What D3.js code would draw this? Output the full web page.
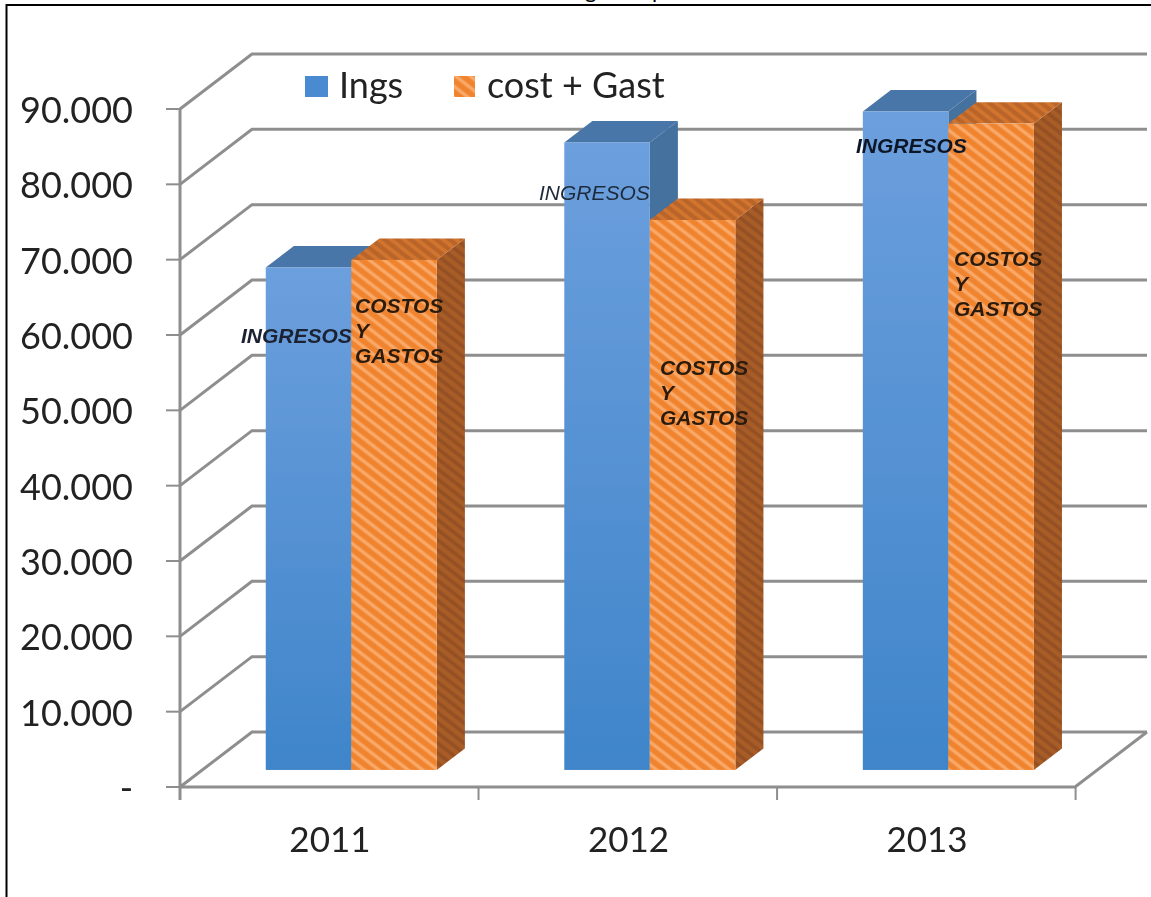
<html>
<head>
    <script src="https://d3js.org/d3.v7.min.js" charset="utf-8"></script>
    <style>
        body { margin: 0; background: #fff; }
        svg { display: block; }
    </style>
</head>

<body>
    <script type="text/javascript">
        // Values
        const years = ["2011", "2012", "2013"];
        const ingresos = [66700, 83300, 87400];
        const costos = [67700, 73000, 85800];
        const yTicks = [0, 10000, 20000, 30000, 40000, 50000, 60000, 70000, 80000, 90000];
        const yTickLabels = ["-", "10.000", "20.000", "30.000", "40.000", "50.000", "60.000", "70.000", "80.000", "90.000"];
        const legendLabels = ["Ings", "cost + Gast"];
        const ingresosLabel = "INGRESOS";
        const costosLabel = ["COSTOS", "Y", "GASTOS"];

        var width = 1151;
        var height = 897;

        var margin = {
            top: 109,
            right: 76,
            bottom: 110,
            left: 180
        };

        // Depth of the 3D floor, and where the bars stand inside it (fractions of the depth)
        var depth = { x: 72, y: -55 };
        var barFront = 0.31;
        var barBack = 0.70;

        const svg = d3.select("body").append("svg")
            .attr("width", width)
            .attr("height", height);

        var xScale = d3.scaleBand()
            .domain(years)
            .range([margin.left, width - margin.right])
            .paddingInner(0.427)
            .paddingOuter(0.2125);

        var yScale = d3.scaleLinear()
            .domain([0, 90000])
            .range([height - margin.bottom, margin.top]);

        // Moves a front plane point back by d (0 = front, 1 = back wall)
        function project(x, value, d) {
            return [x + depth.x * d, yScale(value) + depth.y * d];
        }

        function polygon(points) {
            return points.map(p => p.join(",")).join(" ");
        }

        // Fills
        const defs = svg.append("defs");

        // The original is a soft screenshot
        defs.append("filter")
            .attr("id", "soft")
            .attr("filterUnits", "userSpaceOnUse")
            .attr("x", 0).attr("y", 0)
            .attr("width", width).attr("height", height)
            .append("feGaussianBlur")
                .attr("stdDeviation", 0.55);

        const blueGradient = defs.append("linearGradient")
            .attr("id", "blueFront")
            .attr("x1", 0).attr("x2", 0)
            .attr("y1", 0).attr("y2", 1);
        blueGradient.append("stop").attr("offset", "0%").attr("stop-color", "#6c9fdd");
        blueGradient.append("stop").attr("offset", "100%").attr("stop-color", "#3f85ca");

        function hatch(id, base, stripe, size, strokeWidth) {
            const pattern = defs.append("pattern")
                .attr("id", id)
                .attr("patternUnits", "userSpaceOnUse")
                .attr("width", size)
                .attr("height", size)
                .attr("patternTransform", "rotate(38)");
            pattern.append("rect")
                .attr("width", size)
                .attr("height", size)
                .attr("fill", base);
            pattern.append("line")
                .attr("x1", 0).attr("x2", size)
                .attr("y1", size / 2).attr("y2", size / 2)
                .attr("stroke", stripe)
                .attr("stroke-width", strokeWidth);
        }

        hatch("orangeFront", "#f0842f", "#f9a868", 9, 3.5);
        hatch("orangeSide", "#a85c28", "#945024", 8, 3.5);
        hatch("orangeTop", "#b9652a", "#d3752f", 8, 3.5);

        // Page frame, cut by the edge of the picture
        svg.append("path")
            .attr("d", `M6.5,${height} V5 H${width}`)
            .attr("fill", "none")
            .attr("stroke", "#000")
            .attr("stroke-width", 2);

        // Only the descenders of the title are left in the picture
        svg.selectAll(".title")
            .data(["g", "p"])
            .join("text")
                .attr("class", "title")
                .attr("x", (d, i) => [585, 652][i])
                .attr("y", -2)
                .attr("font-family", "Lato")
                .attr("font-size", 22)
                .attr("fill", "#000")
                .text(d => d);

        const chart = svg.append("g")
            .attr("filter", "url(#soft)");

        const grid = chart.append("g")
            .attr("fill", "none")
            .attr("stroke", "#8e8e8e")
            .attr("stroke-width", 3);

        // Back wall and side wall lines
        yTicks.forEach(t => {
            const front = project(margin.left, t, 0);
            const back = project(margin.left, t, 1);
            const right = project(width - margin.right, t, 1);
            grid.append("polyline").attr("points", polygon([front, back, right]));
        });

        // Floor front edge and right edge
        grid.append("polyline").attr("points", polygon([
            project(margin.left, 0, 0),
            project(width - margin.right, 0, 0),
            project(width - margin.right, 0, 1)
        ]));

        // Left axis
        grid.append("line")
            .attr("x1", margin.left).attr("x2", margin.left)
            .attr("y1", yScale(90000)).attr("y2", yScale(0) + 13);

        const ticks = chart.append("g")
            .attr("stroke", "#8e8e8e")
            .attr("stroke-width", 2);

        ticks.selectAll(".ytick")
            .data(yTicks)
            .join("line")
                .attr("class", "ytick")
                .attr("x1", margin.left - 14).attr("x2", margin.left)
                .attr("y1", d => yScale(d)).attr("y2", d => yScale(d));

        // Category separators on the x axis
        const step = xScale.step();
        ticks.selectAll(".xtick")
            .data(d3.range(years.length + 1))
            .join("line")
                .attr("class", "xtick")
                .attr("x1", d => margin.left + d * step).attr("x2", d => margin.left + d * step)
                .attr("y1", yScale(0)).attr("y2", yScale(0) + 13);

        // Tick labels
        chart.selectAll(".ylabel")
            .data(yTicks)
            .join("text")
                .attr("class", "ylabel")
                .attr("x", 133)
                .attr("y", d => yScale(d) + 14)
                .attr("text-anchor", "end")
                .attr("font-family", "Lato")
                .attr("font-size", 36)
                .attr("fill", "#222")
                .text((d, i) => yTickLabels[i]);

        chart.selectAll(".xlabel")
            .data(years)
            .join("text")
                .attr("class", "xlabel")
                .attr("x", d => xScale(d) + xScale.bandwidth() / 2 + 1)
                .attr("y", 852)
                .attr("text-anchor", "middle")
                .attr("font-family", "Lato")
                .attr("font-size", 35)
                .attr("fill", "#222")
                .text(d => d);

        // One 3D bar: side and top faces first, front face last
        function drawBar(x0, x1, value, frontFill, sideFill, topFill) {
            const g = chart.append("g");
            g.append("polygon")
                .attr("points", polygon([
                    project(x1, 0, barFront), project(x1, 0, barBack),
                    project(x1, value, barBack), project(x1, value, barFront)
                ]))
                .attr("fill", sideFill);
            g.append("polygon")
                .attr("points", polygon([
                    project(x0, value, barFront), project(x0, value, barBack),
                    project(x1, value, barBack), project(x1, value, barFront)
                ]))
                .attr("fill", topFill);
            const a = project(x0, value, barFront);
            const b = project(x1, 0, barFront);
            g.append("rect")
                .attr("x", a[0]).attr("y", a[1])
                .attr("width", b[0] - a[0]).attr("height", b[1] - a[1])
                .attr("fill", frontFill);
        }

        years.forEach((year, i) => {
            const x0 = xScale(year);
            const xm = x0 + xScale.bandwidth() / 2;
            const x1 = x0 + xScale.bandwidth();
            drawBar(x0, xm, ingresos[i], "url(#blueFront)", "#44719f", "#4a76a8");
            drawBar(xm, x1, costos[i], "url(#orangeFront)", "url(#orangeSide)", "url(#orangeTop)");
        });

        // Hand placed data labels, as in the original
        const ingresosSpots = [
            { x: 241, y: 343, weight: "bold", fill: "#1a2230" },
            { x: 539, y: 200, weight: "normal", fill: "#1f2a3a" },
            { x: 856, y: 153, weight: "bold", fill: "#101828" }
        ];
        const costosSpots = [
            { x: 355, y: 313 },
            { x: 660, y: 375 },
            { x: 954, y: 266 }
        ];

        chart.selectAll(".ingresos")
            .data(ingresosSpots)
            .join("text")
                .attr("class", "ingresos")
                .attr("x", d => d.x)
                .attr("y", d => d.y)
                .attr("font-family", "Liberation Sans")
                .attr("font-style", "italic")
                .attr("font-weight", d => d.weight)
                .attr("font-size", 21)
                .attr("fill", d => d.fill)
                .text(ingresosLabel);

        costosSpots.forEach(spot => {
            chart.append("text")
                .attr("font-family", "Liberation Sans")
                .attr("font-style", "italic")
                .attr("font-weight", "bold")
                .attr("font-size", 21)
                .attr("fill", "#2a1a10")
                .selectAll("tspan")
                .data(costosLabel)
                .join("tspan")
                    .attr("x", spot.x)
                    .attr("y", (d, i) => spot.y + i * 25)
                    .text(d => d);
        });

        // Legend
        const legendSpots = [
            { box: 305, text: 339, fill: "#4a8ad0", w: 23 },
            { box: 454, text: 487, fill: "url(#orangeFront)", w: 21 }
        ];

        legendSpots.forEach((spot, i) => {
            chart.append("rect")
                .attr("x", spot.box)
                .attr("y", 76)
                .attr("width", spot.w)
                .attr("height", 21)
                .attr("fill", spot.fill);
            chart.append("text")
                .attr("x", spot.text)
                .attr("y", 98)
                .attr("font-family", "Lato")
                .attr("font-size", 36)
                .attr("fill", "#222")
                .text(legendLabels[i]);
        });
    </script>
</body>
</html>
